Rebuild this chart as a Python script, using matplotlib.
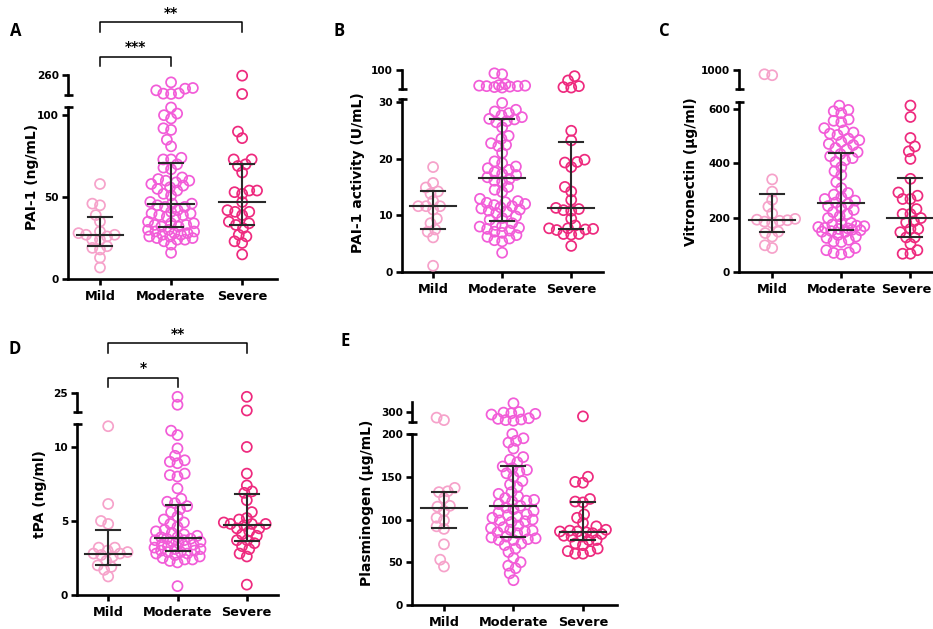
import matplotlib
matplotlib.use("Agg")
import matplotlib.pyplot as plt
import matplotlib.transforms as mtransforms
import numpy as np

W, H = 933, 629

groups = ["Mild", "Moderate", "Severe"]
colors = ["#F6A2CA", "#F25CD8", "#EE2A7E"]

# ---- A: PAI-1 (ng/mL) ----
pai1_mild = [58, 46, 45, 39, 35, 29, 28, 27, 27, 26, 24, 24, 20, 19, 18, 13, 7]
pai1_moderate = [238, 221, 219, 214, 205, 204, 203,
                 104.7, 101, 100, 98, 92, 91, 85, 81, 74, 73, 73, 70, 68, 67,
                 62, 61, 60, 60, 59, 58, 57, 56, 55, 54, 52, 51, 47, 46, 46, 45,
                 44, 44, 42, 41, 40, 40, 39, 39, 38, 38, 35, 34, 34, 33, 33, 32,
                 32, 30, 30, 29, 29, 28, 28, 27, 27, 26, 26, 25, 25, 24, 24, 23,
                 21, 16]
pai1_severe = [258, 203, 90, 86, 73, 73, 70, 69, 65, 54, 54, 53, 52, 47, 42,
               41, 41, 39, 35, 34, 33, 31, 27, 26, 23, 22, 15]
pai1_stats = [(27, 20, 38), (46, 31.5, 71), (47, 33, 70)]  # median, q1, q3

# ---- B: PAI-1 activity (U/mL) ----
act_mild = [18.5, 15.7, 14.9, 14.2, 13.8, 12.5, 11.6, 11.6, 11.6, 9.4, 8.6,
            7.5, 7.1, 6.1, 1.1, 11.0]
act_moderate = [93, 91, 70, 68, 67, 67, 66, 66, 65, 64, 63,
                29.8, 28.6, 28.3, 28.0, 27.6, 27.3, 27.0, 26.9, 26.6, 26.4,
                25.5, 24.0, 23.5, 22.7, 22.4, 22.2, 21.0, 19.5, 19.2, 18.6,
                18.3, 18.0, 17.6, 17.3, 17.1, 16.7, 16.4, 16.1, 15.9, 15.0,
                14.5, 14.1, 12.9, 12.5, 12.3, 12.2, 12.0, 11.8, 11.6, 11.4,
                11.2, 11.0, 10.8, 10.6, 10.4, 9.8, 9.5, 9.2, 8.6, 8.3, 8.1,
                8.0, 7.8, 7.6, 7.3, 7.1, 6.9, 6.5, 6.2, 5.9, 5.6, 5.4, 3.4]
act_severe = [87, 78, 66, 64, 63, 24.9, 23.2, 19.8, 19.4, 19.3, 18.5, 15.0,
              14.2, 12.7, 11.3, 11.1, 10.9, 10.8, 9.4, 8.2, 7.7, 7.7, 7.6,
              7.5, 7.4, 6.7, 6.7, 6.6, 4.6]
act_stats = [(11.6, 7.6, 14.3), (16.5, 9.0, 27.0), (11.3, 7.6, 23.0)]

# ---- C: Vitronectin (ug/ml) ----
vn_mild = [955, 945, 340, 295, 265, 240, 215, 195, 192, 190, 188, 185, 180,
           148, 143, 130, 98, 88]
vn_moderate = [625, 595, 590, 583, 560, 555, 550, 528, 520, 512, 508, 503, 490,
               484, 478, 470, 466, 455, 450, 440, 433, 425, 418, 410, 404, 385,
               370, 356, 330, 308, 290, 284, 275, 268, 262, 255, 250, 242, 235,
               228, 220, 212, 205, 198, 180, 177, 174, 170, 168, 165, 162, 160,
               158, 155, 153, 150, 148, 147, 136, 130, 125, 118, 112, 110, 88,
               80, 72, 70, 65]
vn_severe = [626, 569, 492, 461, 443, 415, 342, 292, 280, 268, 268, 231, 213,
             213, 198, 186, 182, 158, 158, 146, 127, 127, 103, 80, 67, 67]
vn_stats = [(192, 145, 288), (255, 155, 435), (200, 130, 345)]

# ---- D: tPA (ng/ml) ----
tpa_mild = [11.4, 6.15, 5.0, 4.8, 3.2, 3.2, 3.0, 2.9, 2.8, 2.8, 2.7, 2.6, 2.3,
            2.0, 1.9, 1.7, 1.25]
tpa_moderate = [24.0, 21.9, 11.1, 10.8, 9.9, 9.4, 9.1, 9.0, 8.9, 8.2, 8.1, 8.0,
                7.2, 6.5, 6.3, 6.2, 6.0, 5.8, 5.6, 5.3, 5.1, 4.9, 4.8, 4.6,
                4.4, 4.3, 4.2, 4.1, 4.0, 3.9, 3.9, 3.8, 3.8, 3.7, 3.7, 3.6,
                3.6, 3.5, 3.4, 3.4, 3.3, 3.3, 3.2, 3.1, 3.1, 3.0, 3.0, 2.9,
                2.9, 2.8, 2.8, 2.7, 2.6, 2.5, 2.4, 2.4, 2.3, 2.2, 0.6]
tpa_severe = [24.0, 20.4, 10.0, 8.2, 7.4, 7.0, 6.9, 6.4, 5.6, 5.2, 5.1, 4.9,
              4.8, 4.8, 4.8, 4.7, 4.5, 4.5, 4.3, 4.1, 4.0, 3.7, 3.7, 3.5, 3.3,
              3.1, 2.8, 2.6, 0.7]
tpa_stats = [(2.8, 2.0, 4.4), (3.85, 3.0, 6.1), (4.75, 3.65, 6.85)]

# ---- E: Plasminogen (ug/mL) ----
plg_mild = [291, 287, 137, 133, 132, 125, 116, 115, 110, 102, 99, 92, 89, 71,
            53, 45]
plg_moderate = [314, 300, 299, 298, 297, 296, 290, 289, 288, 287, 286,
                200, 195, 192, 190, 183, 173, 170, 167, 162, 160, 158, 156,
                154, 150, 145, 141, 138, 132, 130, 127, 125, 123, 122, 121,
                118, 116, 114, 112, 110, 108, 106, 105, 103, 102, 100, 99, 98,
                97, 93, 91, 90, 88, 87, 86, 85, 84, 80, 79, 78, 77, 76, 76,
                72, 70, 66, 62, 55, 50, 46, 43, 37, 29]
plg_severe = [293, 150, 144, 143, 124, 121, 120, 106, 102, 96, 92, 88, 87, 86,
              86, 85, 84, 83, 81, 80, 80, 76, 76, 72, 70, 66, 63, 63, 60, 60]
plg_stats = [(114, 90, 132), (116, 80, 163), (85, 76, 120)]


plt.rcParams['font.family'] = 'DejaVu Sans'
plt.rcParams['font.weight'] = 'bold'

fig = plt.figure(figsize=(W / 100, H / 100), dpi=100)


def rect(x0, x1, ytop, ybot):
    return [x0 / W, 1 - ybot / H, (x1 - x0) / W, (ybot - ytop) / H]


def swarm(ypix, d, maxw):
    # beeswarm in pixel space, offsets kept within +-maxw (points may overlap there)
    order = np.argsort(ypix)
    xs = np.zeros(len(ypix))
    placed = []
    grid = np.linspace(-maxw, maxw, 15)
    for i in order:
        y = ypix[i]
        near = [(px, py) for px, py in placed if abs(py - y) < d]
        cands = [0.0] + list(grid)
        for px, py in near:
            dx = np.sqrt(d * d - (py - y) ** 2)
            cands += [px - dx, px + dx]
        cands = [c for c in cands if abs(c) <= maxw + 1e-6]
        cands.sort(key=abs)
        best, best_d = 0.0, -1
        for c in cands:
            md = min([np.hypot(c - px, y - py) for px, py in near] + [99])
            if md >= d - 1e-6:
                best = c
                break
            if md > best_d + 0.5:
                best, best_d = c, md
        xs[i] = best
        placed.append((best, y))
    return xs


def style_axis(ax, yticks, bottom=True):
    for s in ['top', 'right']:
        ax.spines[s].set_visible(False)
    ax.spines['left'].set_linewidth(1.9)
    ax.spines['bottom'].set_linewidth(1.9)
    if not bottom:
        ax.spines['bottom'].set_visible(False)
        ax.set_xticks([])
    ax.set_yticks(yticks)
    ax.tick_params(axis='y', length=4.5, width=1.9, labelsize=7.6, pad=2)
    ax.tick_params(axis='x', length=4.5, width=1.9, labelsize=9.3, pad=3.5)
    ax.patch.set_alpha(0)


def break_cap(ax, y):
    wpx = ax.get_window_extent().width
    c = 4.5 / wpx
    ax.plot([-c, c], [y, y], color='black', lw=1.9, transform=ax.transAxes,
            clip_on=False, solid_capstyle='butt')


def panel(x0, x1, lo_top, lo_bot, up_top, up_bot, lo_lim, up_lim, lo_ticks,
          up_ticks, xlim, series, stats, ylabel, ylab_pos, letter, letter_pos):
    ax_up = fig.add_axes(rect(x0, x1, up_top, up_bot))
    ax_lo = fig.add_axes(rect(x0, x1, lo_top, lo_bot))
    for ax in (ax_up, ax_lo):
        ax.set_xlim(*xlim)
    ax_lo.set_ylim(*lo_lim)
    ax_up.set_ylim(*up_lim)
    style_axis(ax_lo, lo_ticks)
    style_axis(ax_up, up_ticks, bottom=False)
    ax_lo.set_xticks(range(len(groups)))
    ax_lo.set_xticklabels(groups)
    break_cap(ax_lo, 1)
    break_cap(ax_up, 0)

    ppu = ax_lo.transData.transform((1, 0))[0] - ax_lo.transData.transform((0, 0))[0]
    for gi, vals in enumerate(series):
        vals = np.asarray(vals, dtype=float)
        is_up = vals > lo_lim[1]
        ypix = np.array([(ax_up if u else ax_lo).transData.transform((0, v))[1]
                         for v, u in zip(vals, is_up)])
        off = swarm(ypix, 7.8, 23) / ppu
        for ax, mask in ((ax_lo, ~is_up), (ax_up, is_up)):
            if mask.any():
                ax.scatter(gi + off[mask], vals[mask], s=52, facecolors='none',
                           edgecolors=colors[gi], linewidths=1.25, zorder=3,
                           clip_on=False)
        med, q1, q3 = stats[gi]
        mw, cw = 23 / ppu, 12 / ppu
        lc = '#2a2a2a'
        ax_lo.plot([gi - mw, gi + mw], [med, med], color=lc, lw=1.5, zorder=4)
        ax_lo.plot([gi - cw, gi + cw], [q1, q1], color=lc, lw=1.5, zorder=4)
        ax_lo.plot([gi - cw, gi + cw], [q3, q3], color=lc, lw=1.5, zorder=4)
        ax_lo.plot([gi, gi], [q1, q3], color=lc, lw=1.5, zorder=4)

    fig.text(ylab_pos[0] / W, 1 - ylab_pos[1] / H, ylabel, rotation=90,
             ha='center', va='center', fontsize=10, fontweight='bold')
    fig.text(letter_pos[0] / W, 1 - letter_pos[1] / H, letter, ha='center',
             va='center', fontsize=12, fontweight='bold', family='Open Sans')
    return ax_lo


def bracket(ax, g1, g2, ytop, yend, label, ylabel):
    tr = mtransforms.blended_transform_factory(ax.transData, fig.transFigure)
    yt, ye, yl = 1 - ytop / H, 1 - yend / H, 1 - ylabel / H
    ax.plot([g1, g1, g2, g2], [ye, yt, yt, ye], color='black', lw=1.1,
            transform=tr, clip_on=False)
    ax.text((g1 + g2) / 2, yl, label, transform=tr, ha='center', va='center',
            fontsize=10, fontweight='bold')


axA = panel(68, 277, 107, 279, 75, 95, (0, 105), (200, 260), [0, 50, 100], [260],
            (-0.45, 2.49), [pai1_mild, pai1_moderate, pai1_severe], pai1_stats,
            'PAI-1 (ng/mL)', (32, 177), 'A', (16, 31))
bracket(axA, 0, 2, 22, 32, '**', 13)
bracket(axA, 0, 1, 57, 66, '***', 47)

panel(402, 603, 99, 272, 70, 89, (0, 30.5), (60, 100), [0, 10, 20, 30], [100],
      (-0.45, 2.46), [act_mild, act_moderate, act_severe], act_stats,
      'PAI-1 activity (U/mL)', (358, 173), 'B', (339, 31))

axC = panel(739, 945, 102, 272, 70, 89, (0, 624), (800, 1000), [0, 200, 400, 600],
            [1000], (-0.48, 2.5), [vn_mild, vn_moderate, vn_severe], vn_stats,
            'Vitronectin (µg/ml)', (691, 172), 'C', (664, 31))
# the last label sits at the figure edge; nudge it inside
lab = axC.get_xticklabels()[-1]
lab.set_transform(lab.get_transform() +
                  mtransforms.ScaledTranslation(-4 / 100, 0, fig.dpi_scale_trans))

axD = panel(77, 278, 424, 595, 393, 412, (0, 11.55), (20, 25), [0, 5, 10], [25],
            (-0.45, 2.45), [tpa_mild, tpa_moderate, tpa_severe], tpa_stats,
            'tPA (ng/ml)', (40, 494), 'D', (15, 349))
bracket(axD, 0, 2, 343, 353, '**', 334)
bracket(axD, 0, 1, 378, 387, '*', 368)

panel(412, 617, 434, 605, 402, 422, (0, 200), (284, 316), [0, 50, 100, 150, 200],
      [300], (-0.46, 2.49), [plg_mild, plg_moderate, plg_severe], plg_stats,
      'Plasminogen (µg/mL)', (367, 503), 'E', (345, 341))

fig.savefig('out.png', dpi=100)
